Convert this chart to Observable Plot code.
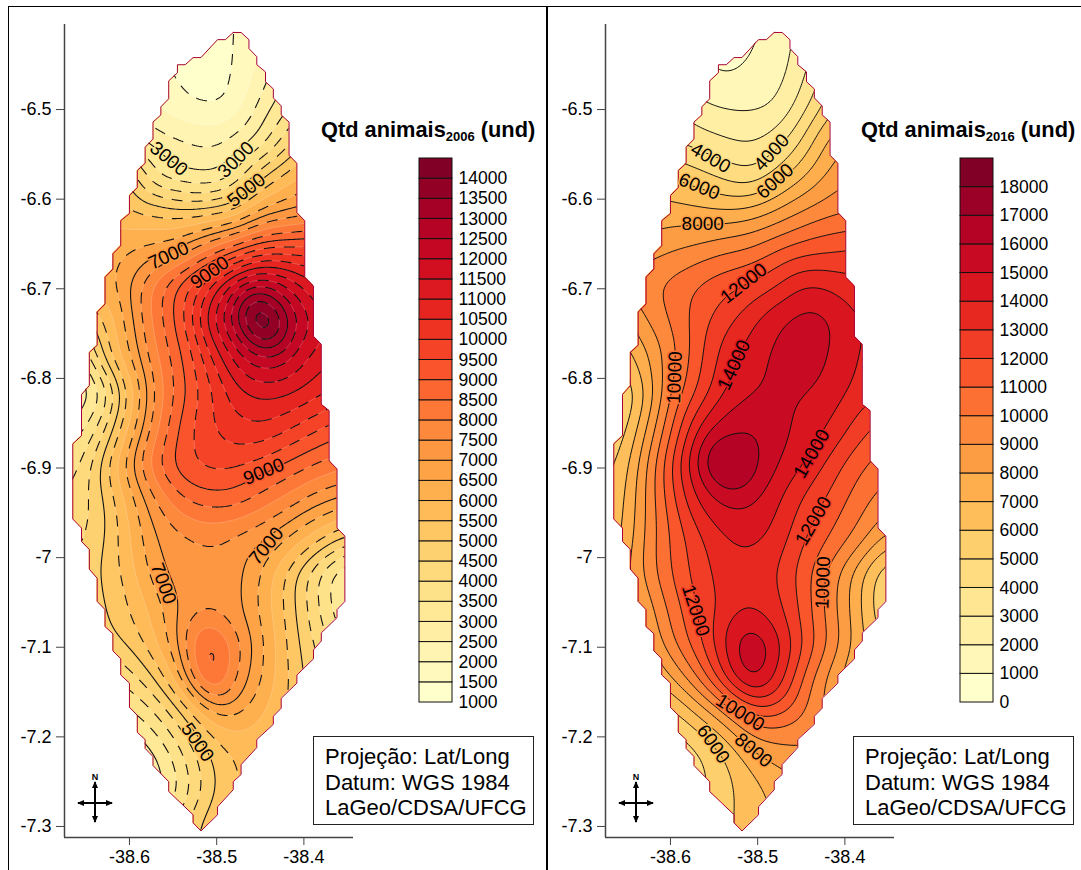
<!DOCTYPE html>
<html><head><meta charset="utf-8">
<script src="https://cdn.jsdelivr.net/npm/d3@7"></script>
<script src="https://cdn.jsdelivr.net/npm/@observablehq/plot@0.6"></script>
<style>
html,body{margin:0;padding:0;background:#fff;overflow:hidden;width:1081px;height:870px}
body{position:relative;font-family:"Liberation Sans",Arial,sans-serif;color:#000}
.panel{position:absolute;top:6px;height:880px;border:1px solid #000;box-sizing:border-box}
.layer{position:absolute;top:0}
.layer svg{display:block;overflow:visible;background:transparent}
.title{position:absolute;top:117px;font-weight:700;font-size:21.8px;white-space:nowrap}
.title sub{font-size:13px;vertical-align:-4px;line-height:0}
.box{position:absolute;top:736px;width:221px;height:89px;border:1px solid #222;box-sizing:border-box;background:#fff;font-size:22px;line-height:25.5px;padding:7px 0 0 11px;white-space:nowrap}
.compass{position:absolute;top:770px}
</style></head><body>
<div class="panel" style="left:8px;width:539px"></div>
<div class="panel" style="left:547px;width:540px"></div>
<script>
const lons = [-38.692,-38.661,-38.631,-38.601,-38.570,-38.540,-38.509,-38.479,-38.449,-38.418,-38.388,-38.357,-38.327];
const lats = [-6.374,-6.414,-6.454,-6.494,-6.535,-6.575,-6.615,-6.655,-6.695,-6.735,-6.776,-6.816,-6.856,-6.896,-6.936,-6.977,-7.017,-7.057,-7.097,-7.137,-7.177,-7.218,-7.258,-7.298,-7.338];
const valores2006 = [
[2400,2200,2000,1800,1500,1300,1300,1400,1900,2600,3100,3600,4000],
[2500,2300,2100,1900,1500,1300,1300,1450,1900,2700,3300,3900,4300],
[2700,2500,2300,2000,1600,1350,1300,1400,2100,3000,3700,4300,4800],
[3300,3000,2700,2400,1900,1550,1350,1450,2700,3250,4100,4800,5400],
[4000,3700,3400,3100,2750,2550,2350,2600,3000,4300,5300,5900,6300],
[6000,5800,5600,5200,3300,3100,2900,3300,5000,5800,6300,6600,6800],
[6300,6100,5900,5600,5500,5100,5200,5500,6700,7000,7300,7500,7700],
[6500,6300,6300,6500,6700,7000,8000,8800,9600,9700,9800,9900,10000],
[6000,6000,6200,6950,8300,9300,10500,11900,12700,12100,11000,10500,10200],
[4500,4500,5450,6700,8300,9300,11500,12800,16000,13000,11900,11200,10700],
[2800,3000,5150,6400,8000,8900,10300,11800,12500,12100,11300,11000,10500],
[2200,2300,3200,5500,7700,8800,9800,10800,11200,11100,10700,10300,10000],
[3100,3100,4200,6000,7900,9300,9900,10300,10500,10100,9600,9200,9000],
[3500,3700,5100,6900,8600,9450,9700,9600,9300,8900,8500,8200,8000],
[4000,4100,4800,6200,7500,8500,8800,8800,8300,7800,7200,6900,6500],
[4200,4300,4800,5900,7100,7400,7600,7400,7100,6500,5800,5000,4500],
[4400,4600,5000,5700,6900,7200,7300,7250,6500,5300,4100,2900,2600],
[4300,4500,4900,5500,6200,7100,7400,7250,6400,5300,4200,3000,2700],
[4300,4400,4700,5000,5900,7150,9300,7800,6700,5400,4500,3700,3000],
[3400,3500,3600,4200,4900,6400,9300,7400,6600,5500,4700,4000,3800],
[3000,3000,3000,3200,3900,4800,6100,6500,6000,5500,4800,4400,4200],
[2800,2800,2800,2400,2900,3900,5000,5600,5700,5600,5300,5000,4800],
[2800,2800,2600,2400,2600,3500,4800,5500,5700,5600,5500,5300,5000],
[3000,3000,3000,3000,3200,4400,5400,5600,5700,5700,5600,5500,5300],
[3200,3200,3200,3200,3500,4800,5500,5700,5700,5700,5600,5500,5400]];
const valores2016 = [
[2700,2500,2300,1800,1100,700,900,1300,2000,3000,3800,4300,4600],
[2600,2400,2200,1700,1000,400,700,1400,2200,3300,4200,4800,5100],
[3200,3000,2700,2200,1200,700,1150,1400,2500,4500,5500,6000,6300],
[4000,3800,3500,3000,2100,1800,1700,1800,3300,5500,6800,7200,7500],
[4800,4700,4500,4000,3500,3100,2800,3300,5000,7500,8200,8500,8700],
[6400,6400,6400,6100,5500,4800,4100,5400,6900,8400,9000,9200,9400],
[7300,7400,7500,7500,7400,7200,7400,8200,9100,9800,10000,10200,10300],
[8000,8100,8300,8900,9200,9800,10000,10900,11500,11800,12100,12200,12300],
[8500,8900,9800,10300,11100,11700,12100,12800,14200,13900,13300,13500,13500],
[6500,7000,9000,10100,11400,12600,13700,14900,15600,15300,14100,13700,13400],
[5800,6000,7500,9500,11500,13500,14500,15300,15600,15100,14000,13500,13300],
[4500,4300,6500,9900,12000,14000,14900,15300,15100,14700,13700,13200,13000],
[4800,4900,7600,10700,14000,15700,16100,15500,14700,14000,12700,11500,11000],
[5500,5700,8500,11800,15400,18600,16700,15000,14200,12700,11300,10500,10000],
[5800,6100,8800,11500,14200,15200,15200,14200,12900,11800,10600,9500,9000],
[6000,6300,9000,11100,12700,14000,14300,13800,12100,11000,9900,8000,6500],
[6500,7000,9100,11000,12400,13500,13700,13100,11500,9700,7600,5200,4000],
[6000,6500,8000,10300,12000,13300,14000,13500,11800,9500,7600,5000,3800],
[6000,6500,7400,9700,11500,13900,16500,14800,12100,10000,7700,6000,5000],
[5300,5500,6500,7600,9700,12800,16000,14000,10800,8500,7000,6000,5500],
[4500,4500,4600,5300,6800,8300,10700,11000,10000,8800,8000,7000,6500],
[3800,3800,3800,4000,4700,5800,7700,8400,9000,8800,8000,7500,7000],
[4000,4000,4000,4300,4500,5600,6500,7300,7700,8000,8000,7500,7000],
[4300,4300,4300,4500,4800,5600,6600,7000,7400,7800,7800,7500,7000],
[4500,4500,4500,4700,5000,5700,6700,7100,7500,7800,7800,7500,7000]];
const limite = [[-38.481,-6.414],[-38.472,-6.414],[-38.463,-6.422],[-38.463,-6.432],[-38.454,-6.441],[-38.454,-6.450],[-38.444,-6.458],[-38.444,-6.469],[-38.435,-6.477],[-38.435,-6.487],[-38.426,-6.496],[-38.426,-6.506],[-38.417,-6.514],[-38.417,-6.551],[-38.408,-6.560],[-38.408,-6.615],[-38.399,-6.624],[-38.399,-6.687],[-38.389,-6.697],[-38.389,-6.753],[-38.380,-6.762],[-38.380,-6.829],[-38.371,-6.836],[-38.371,-6.892],[-38.362,-6.901],[-38.362,-6.967],[-38.353,-6.976],[-38.353,-7.049],[-38.362,-7.058],[-38.362,-7.067],[-38.380,-7.084],[-38.380,-7.093],[-38.389,-7.103],[-38.389,-7.113],[-38.408,-7.131],[-38.408,-7.140],[-38.426,-7.157],[-38.426,-7.168],[-38.435,-7.177],[-38.435,-7.186],[-38.454,-7.203],[-38.454,-7.212],[-38.472,-7.231],[-38.472,-7.242],[-38.481,-7.250],[-38.481,-7.259],[-38.499,-7.278],[-38.499,-7.287],[-38.518,-7.305],[-38.527,-7.296],[-38.527,-7.287],[-38.555,-7.261],[-38.555,-7.250],[-38.573,-7.232],[-38.573,-7.222],[-38.582,-7.213],[-38.582,-7.203],[-38.591,-7.195],[-38.591,-7.176],[-38.600,-7.167],[-38.600,-7.140],[-38.610,-7.131],[-38.610,-7.113],[-38.619,-7.104],[-38.619,-7.085],[-38.628,-7.077],[-38.628,-7.058],[-38.637,-7.049],[-38.637,-7.023],[-38.646,-7.013],[-38.646,-6.991],[-38.655,-6.982],[-38.655,-6.967],[-38.665,-6.957],[-38.665,-6.873],[-38.655,-6.864],[-38.655,-6.818],[-38.646,-6.808],[-38.646,-6.771],[-38.637,-6.763],[-38.637,-6.726],[-38.628,-6.717],[-38.628,-6.687],[-38.619,-6.678],[-38.619,-6.661],[-38.610,-6.652],[-38.610,-6.624],[-38.600,-6.616],[-38.600,-6.596],[-38.591,-6.587],[-38.591,-6.568],[-38.582,-6.560],[-38.582,-6.542],[-38.573,-6.533],[-38.573,-6.514],[-38.564,-6.506],[-38.564,-6.497],[-38.555,-6.488],[-38.555,-6.468],[-38.545,-6.459],[-38.545,-6.450],[-38.536,-6.450],[-38.527,-6.442],[-38.518,-6.442],[-38.499,-6.422],[-38.490,-6.422],[-38.481,-6.414]];
const rotulos2006 = [
{t:3000,lon:-38.555,lat:-6.555,r:40},{t:3000,lon:-38.478,lat:-6.556,r:-45},{t:5000,lon:-38.466,lat:-6.590,r:-38},
{t:7000,lon:-38.555,lat:-6.663,r:-25},{t:9000,lon:-38.508,lat:-6.682,r:-35},{t:9000,lon:-38.446,lat:-6.904,r:-22},
{t:7000,lon:-38.443,lat:-6.987,r:-50},{t:7000,lon:-38.561,lat:-7.029,r:70},{t:5000,lon:-38.522,lat:-7.206,r:55}];
const rotulos2016 = [
{t:4000,lon:-38.554,lat:-6.554,r:30},{t:4000,lon:-38.484,lat:-6.548,r:-48},{t:6000,lon:-38.567,lat:-6.586,r:22},
{t:6000,lon:-38.480,lat:-6.580,r:-42},{t:8000,lon:-38.563,lat:-6.628,r:0},{t:12000,lon:-38.516,lat:-6.694,r:-38},
{t:14000,lon:-38.527,lat:-6.785,r:-65},{t:10000,lon:-38.595,lat:-6.799,r:-88},{t:14000,lon:-38.438,lat:-6.884,r:-60},
{t:12000,lon:-38.436,lat:-6.959,r:-60},{t:10000,lon:-38.425,lat:-7.028,r:-88},{t:12000,lon:-38.571,lat:-7.059,r:72},
{t:10000,lon:-38.520,lat:-7.173,r:32},{t:8000,lon:-38.505,lat:-7.215,r:40},{t:6000,lon:-38.551,lat:-7.208,r:55}];
const ticksLon = [-38.6,-38.5,-38.4];
const ticksLat = [-6.5,-6.6,-6.7,-6.8,-6.9,-7,-7.1,-7.2,-7.3];
const niveis2006 = d3.range(1000,14001,500);
const niveis2016 = d3.range(0,18001,1000);
const linhas2006Cheias = niveis2006.filter(v=>v%2000===1000);
const semTraco = [2000,6000,8000];
const linhas2006Trac = niveis2006.filter(v=>v%2000!==1000 && !semTraco.includes(v));
const notas = ["Projeção: Lat/Long","Datum: WGS 1984","LaGeo/CDSA/UFCG"];
const FONT = '"Liberation Sans",Arial,sans-serif';
let clipN = 0;
function clipTo(index, scales, values, dims, ctx, next){
  const g = next(index, scales, values, dims, ctx);
  const id = "lim"+(++clipN);
  const w = document.createElementNS("http://www.w3.org/2000/svg","g");
  const cp = document.createElementNS("http://www.w3.org/2000/svg","clipPath");
  cp.setAttribute("id",id);
  const poly = document.createElementNS("http://www.w3.org/2000/svg","polygon");
  poly.setAttribute("points",limite.map(([a,b])=>scales.x(a)+","+scales.y(b)).join(" "));
  cp.appendChild(poly); w.appendChild(cp); w.setAttribute("clip-path","url(#"+id+")"); w.appendChild(g);
  return w;
}
function mapa(grade, niveis, dominio, rotulos, lineSets){
  const pts = [];
  grade.forEach((row,j)=>row.forEach((v,i)=>pts.push({lon:lons[i],lat:lats[j],v})));
  const base = {x:"lon",y:"lat",interpolate:"barycentric",pixelSize:2,blur:6,render:clipTo};
  const marks = [Plot.contour(pts,{...base,fill:"v",thresholds:niveis})];
  for (const s of lineSets) marks.push(Plot.contour(pts,{...base,value:"v",fill:"none",thresholds:s.t,stroke:s.c,strokeWidth:s.w,strokeOpacity:s.o??1,strokeDasharray:s.d}));
  marks.push(
    Plot.line(limite,{x:d=>d[0],y:d=>d[1],stroke:"#a8003a",strokeWidth:1,curve:"linear"}),
    Plot.text(rotulos,{x:"lon",y:"lat",text:d=>String(d.t),rotate:"r",fontSize:19,fill:"black",stroke:"t",strokeWidth:3,paintOrder:"stroke",fontFamily:FONT}),
    Plot.ruleX([-38.6745],{stroke:"#444",strokeWidth:1.5}),
    Plot.ruleY([-7.3123],{stroke:"#444",strokeWidth:1.5}),
    Plot.axisX({ticks:ticksLon,tickFormat:d=>String(d),tickSize:8,tickPadding:5,fontSize:18,stroke:"#444",label:null,fontFamily:FONT}),
    Plot.axisY({ticks:ticksLat,tickFormat:d=>String(d),tickSize:8,tickPadding:5,fontSize:18,stroke:"#444",label:null,fontFamily:FONT})
  );
  return Plot.plot({
    width:540,height:870,marginLeft:64,marginRight:187,marginTop:24,marginBottom:33,
    x:{domain:[-38.6745,-38.3431]},
    y:{domain:[-7.3123,-6.4051]},
    color:{type:"linear",scheme:"YlOrRd",domain:dominio},
    style:{fontFamily:FONT,color:"#000",background:"transparent",overflow:"visible"},
    marks
  });
}
function barra(niveis, passo, dominio, rotuloVals){
  const bandas = niveis.map(v=>({a:v,b:v+passo}));
  return Plot.plot({
    width:130,height:870,marginLeft:19,marginRight:78,marginTop:158,marginBottom:168,
    x:{axis:null,domain:[0,1]},
    y:{domain:[niveis[0],niveis[niveis.length-1]+passo]},
    color:{type:"linear",scheme:"YlOrRd",domain:dominio},
    style:{fontFamily:FONT,color:"#000",background:"transparent",overflow:"visible"},
    marks:[
      Plot.rect(bandas,{x1:0,x2:1,y1:"a",y2:"b",fill:"a",stroke:"#111",strokeWidth:1}),
      Plot.axisY({anchor:"right",ticks:rotuloVals,tickFormat:d=>String(d),tickSize:0,tickPadding:6,fontSize:17.5,label:null,fontFamily:FONT})
    ]
  });
}
function place(node,left){const d=document.createElement("div");d.className="layer";d.style.left=left+"px";d.appendChild(node);document.body.appendChild(d);}
function compass(left){
  const d=document.createElement("div");d.className="compass";d.style.left=left+"px";
  d.innerHTML='<svg width="40" height="54" viewBox="0 0 40 54" style="display:block"><text x="20" y="10" text-anchor="middle" font-size="9" font-weight="700" font-family="Liberation Sans" fill="#000">N</text><path d="M20 12V52M3 33H37" stroke="#000" stroke-width="2" fill="none"/><path d="M20 11l-3 7h6zM20 53l-3-7h6zM2 33l7-3v6zM38 33l-7-3v6z" fill="#000"/></svg>';
  document.body.appendChild(d);
}
function titulo(left,ano){const d=document.createElement("div");d.className="title";d.style.left=left+"px";d.innerHTML="Qtd animais<sub>"+ano+"</sub> (und)";document.body.appendChild(d);}
function caixa(left){const d=document.createElement("div");d.className="box";d.style.left=left+"px";d.innerHTML=notas.join("<br>");document.body.appendChild(d);}

place(mapa(valores2006,niveis2006,[1000,14000],rotulos2006,[
  {t:niveis2006,c:"#fff",w:.7,o:.3},
  {t:linhas2006Trac,c:"#111",w:1.1,d:"11,9"},
  {t:linhas2006Cheias,c:"#111",w:1.1}
]),0);
place(mapa(valores2016,niveis2016,[0,18000],rotulos2016,[{t:niveis2016,c:"#111",w:1}]),541);
place(barra(niveis2006,500,[1000,14000],niveis2006),400);
place(barra(niveis2016,1000,[0,18000],niveis2016),941);
titulo(321,"2006");titulo(861,"2016");
caixa(313);caixa(853);
compass(75);compass(616);
</script></body></html>
